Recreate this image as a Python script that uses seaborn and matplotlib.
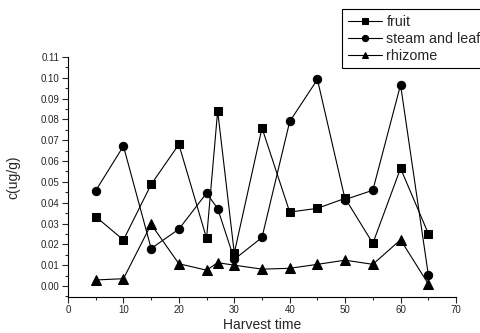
import pandas as pd
import seaborn as sns
import matplotlib.pyplot as plt
from matplotlib.ticker import MultipleLocator

# harvest times and concentrations (ug/g)
harvest_time = [5, 10, 15, 20, 25, 27, 30, 35, 40, 45, 50, 55, 60, 65]
fruit = [0.0333, 0.0221, 0.0488, 0.0680, 0.0229, 0.0841, 0.0158, 0.0759,
         0.0355, 0.0373, 0.0421, 0.0205, 0.0565, 0.0252]
steam_leaf = [0.0458, 0.0672, 0.0180, 0.0273, 0.0446, 0.0372, 0.0128, 0.0233,
              0.0790, 0.0992, 0.0415, 0.0460, 0.0966, 0.0055]
rhizome = [0.0029, 0.0035, 0.0296, 0.0107, 0.0076, 0.0112, 0.0100, 0.0081,
           0.0085, 0.0104, 0.0124, 0.0104, 0.0222, 0.0010]

series = {'fruit': (fruit, 's', 6),
          'steam and leaf': (steam_leaf, 'o', 6),
          'rhizome': (rhizome, '^', 7)}

sns.set_style("ticks")
plt.rcParams['font.family'] = ['Liberation Sans', 'DejaVu Sans']

fig = plt.figure(figsize=(4.81, 3.33), dpi=100)
ax = fig.add_axes([0.1414, 0.108, 0.8066, 0.721])

for name, (vals, mk, ms) in series.items():
  df = pd.DataFrame({'x': harvest_time, 'y': vals})
  sns.lineplot(data=df, x='x', y='y', ax=ax, color='black', linewidth=0.8,
               marker=mk, markersize=ms,
               markeredgecolor='black', markerfacecolor='black',
               label=name, sort=False)

ax.set_xlim(0, 70)
ax.set_ylim(-0.0053, 0.11)
ax.xaxis.set_major_locator(MultipleLocator(10))
ax.xaxis.set_minor_locator(MultipleLocator(5))
ax.yaxis.set_minor_locator(MultipleLocator(0.005))
ax.set_yticks([i / 100 for i in range(12)])
ax.set_yticklabels(['{:.2f}'.format(i / 100) for i in range(12)])
ax.tick_params(which='major', direction='out', length=4, width=0.8, labelsize=7, pad=2)
ax.tick_params(which='minor', direction='out', length=2.5, width=0.8)

sns.despine(ax=ax)
for s in ['left', 'bottom']:
  ax.spines[s].set_linewidth(0.8)
  ax.spines[s].set_color('black')

ax.set_xlabel('Harvest time', fontsize=10, labelpad=2)
ax.set_ylabel('c(ug/g)', fontsize=10)
ax.yaxis.set_label_coords(-0.122, 0.5)

leg = ax.legend(loc='upper left', bbox_to_anchor=(0.711, 0.972),
                bbox_transform=fig.transFigure, fontsize=10.3, frameon=True,
                fancybox=False, framealpha=1, edgecolor='black',
                handlelength=2.4, handletextpad=0.3, labelspacing=0.2,
                borderpad=0.4, borderaxespad=0)
leg.get_frame().set_linewidth(0.8)
for h in leg.legend_handles:
  h.set_markersize(4.5)

fig.savefig('out.png', dpi=100)
